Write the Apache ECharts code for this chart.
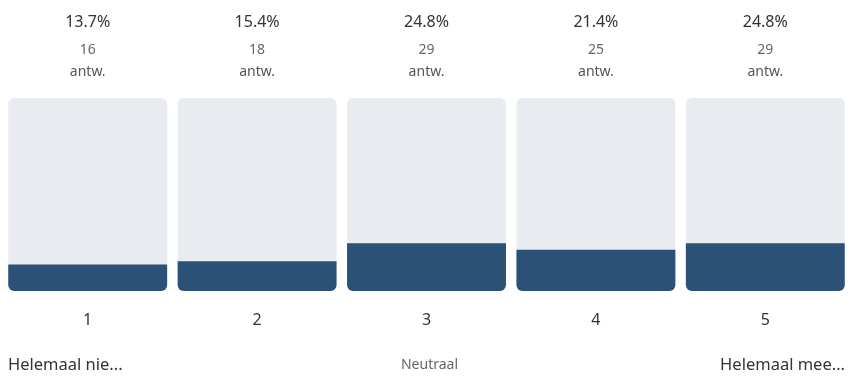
<!DOCTYPE html>
<html><head><meta charset="utf-8">
<script src="https://cdn.jsdelivr.net/npm/echarts@6/dist/echarts.min.js"></script>
<style>html,body{margin:0;padding:0;background:#fff}#c{width:859px;height:380px}</style>
</head><body><div id="c"></div>
<script>
const categories = ['1','2','3','4','5'];
const percentages = [13.7, 15.4, 24.8, 21.4, 24.8];
const counts = [16, 18, 29, 25, 29];
const fullScale = [100, 100, 100, 100, 100];
const anchorLeft = 'Helemaal nie...';
const anchorMid = 'Neutraal';
const anchorRight = 'Helemaal mee...';
const FONT = '"Noto Sans", sans-serif';

const chart = echarts.init(document.getElementById('c'));
chart.setOption({
  animation: false,
  textStyle: {fontFamily: FONT},
  grid: {left: 3, right: 9, top: 98, bottom: 89},
  xAxis: {
    type: 'category', data: categories,
    axisLine: {show: false}, axisTick: {show: false},
    axisLabel: {fontSize: 16, color: '#333', margin: 21, fontFamily: FONT}
  },
  yAxis: {type: 'value', min: 0, max: 100, show: false},
  series: [
    {
      type: 'bar', data: fullScale, barCategoryGap: '6.2%', barGap: '-100%',
      itemStyle: {color: '#e8ebef', borderRadius: 6},
      silent: true,
      label: {
        show: true, position: 'top', distance: 15,
        formatter: p => '{p|' + percentages[p.dataIndex].toFixed(1) + '%}\n{c|' + counts[p.dataIndex] + '}\n{a|antw.}',
        rich: {
          p: {fontSize: 16, color: '#333', lineHeight: 34, fontFamily: FONT, align: 'center'},
          c: {fontSize: 14, color: '#666', lineHeight: 22, fontFamily: FONT, align: 'center'},
          a: {fontSize: 14, color: '#555', lineHeight: 22, fontFamily: FONT, align: 'center'}
        }
      }
    },
    {
      type: 'bar', data: percentages, barCategoryGap: '6.2%', barGap: '-100%',
      itemStyle: {color: '#2c5177', borderRadius: [0, 0, 6, 6]}
    }
  ],
  graphic: [
    {type: 'text', left: 8, top: 357, style: {text: anchorLeft, fontSize: 16.5, fill: '#333', fontFamily: FONT}},
    {type: 'text', left: 'center', top: 358, style: {text: anchorMid, fontSize: 14, fill: '#666', fontFamily: FONT}},
    {type: 'text', right: 14, top: 357, style: {text: anchorRight, fontSize: 16.5, fill: '#333', fontFamily: FONT}}
  ]
});
</script></body></html>
